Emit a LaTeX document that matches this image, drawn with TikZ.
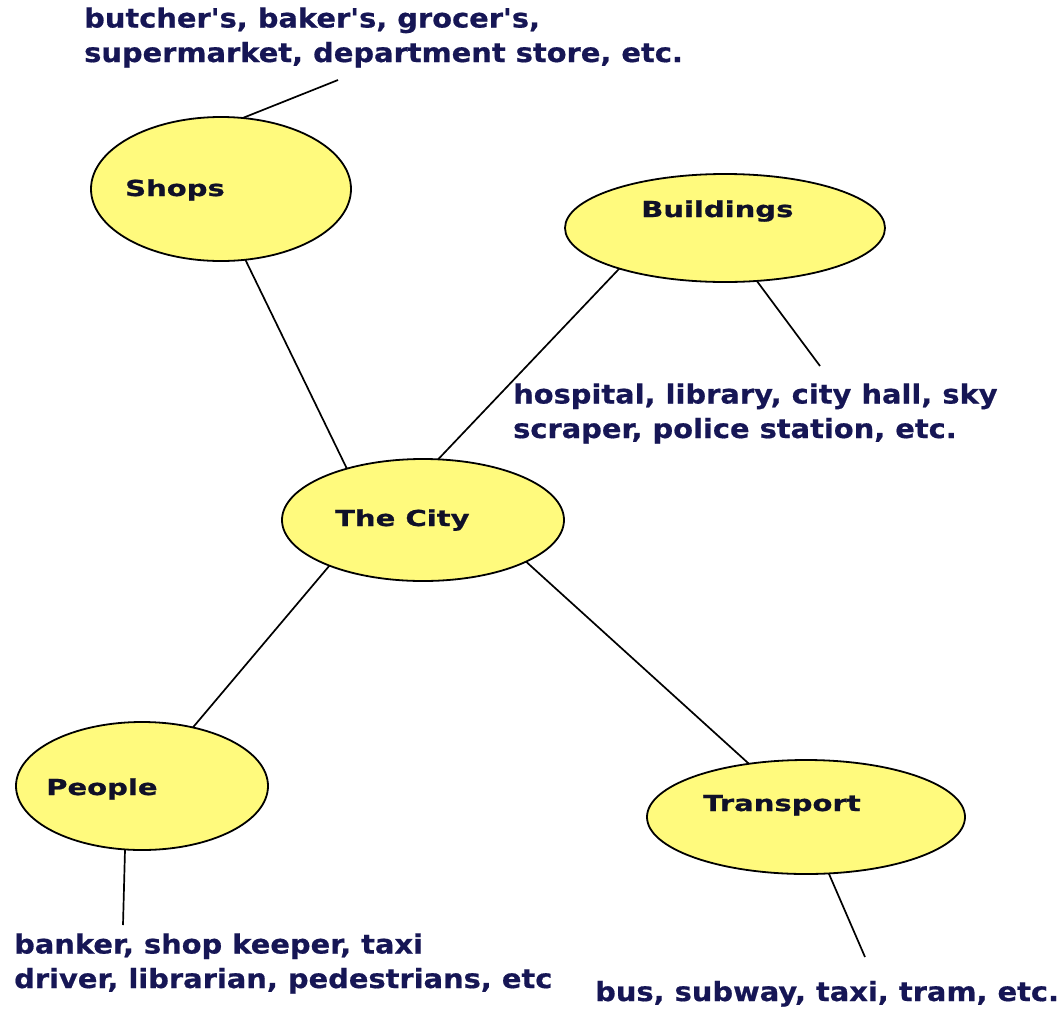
\documentclass[tikz,border=0pt]{standalone}
\usepackage{fontspec}
\setmainfont{DejaVu Sans}
\newfontfamily\descfont[FakeStretch=1.09, BoldFeatures={FakeBold=0.6}]{DejaVu Sans}
\newfontfamily\nodefont[FakeStretch=1.32, BoldFeatures={FakeBold=0.9}]{DejaVu Sans}
\usetikzlibrary{shapes.geometric}
\definecolor{bubblefill}{RGB}{255,250,125}
\definecolor{navy}{RGB}{22,22,85}
\definecolor{ink}{RGB}{16,16,40}
\begin{document}
\begin{tikzpicture}[x=1pt,y=-1pt,
  bubble/.style={ellipse, draw=black, line width=1.8pt, fill=bubblefill, inner sep=0pt, outer sep=0pt},
  lbl/.style={anchor=base west, inner sep=0pt, text=ink, font=\nodefont\bfseries\fontsize{22}{26}\selectfont},
  desc/.style={anchor=base west, inner sep=0pt, align=left, text=navy, font=\descfont\bfseries\fontsize{26.5}{34.5}\selectfont},
  link/.style={draw=black, line width=1.7pt}]
\useasboundingbox[fill=white] (0,0) rectangle (1058,1010);

% bubbles
\node[bubble, minimum width=260pt, minimum height=144pt] (shops) at (221,189) {};
\node[bubble, minimum width=320pt, minimum height=108pt] (buildings) at (725,228) {};
\node[bubble, minimum width=282pt, minimum height=122pt] (city) at (423,520) {};
\node[bubble, minimum width=252pt, minimum height=128pt] (people) at (142,786) {};
\node[bubble, minimum width=318pt, minimum height=114pt] (transport) at (806,817) {};

% bubble labels
\node[lbl] (shopsL) at (125,196) {Shops};
\node[lbl] (buildingsL) at (641,217) {Buildings};
\node[lbl] (cityL) at (335,526) {The City};
\node[lbl] (peopleL) at (46,795) {People};
\node[lbl] (transportL) at (703,811) {Transport};

% descriptions (base anchor = baseline of last line)
\node[desc] (shopsD) at (84,62) {butcher's, baker's, grocer's,\\supermarket, department store, etc.};
\node[desc] (buildingsD) at (513,438) {hospital, library, city hall, sky\\scraper, police station, etc.};
\node[desc] (peopleD) at (14,988) {banker, shop keeper, taxi\\driver, librarian, pedestrians, etc};
\node[desc] (transportD) at (595,1001) {bus, subway, taxi, tram, etc.};

% free ends
\coordinate (shopsEnd) at (338,80);
\coordinate (buildingsEnd) at (820,366);
\coordinate (peopleEnd) at (123,925);
\coordinate (transportEnd) at (865,957);

% connectors
\draw[link] (shops.-71) -- (city.146);
\draw[link] (buildings.-159) -- (city.76);
\draw[link] (city.-154) -- (people.49);
\draw[link] (city.-22) -- (transport.137);
\draw[link] (shops.73) -- (shopsEnd);
\draw[link] (buildings.-59) -- (buildingsEnd);
\draw[link] (people.-105) -- (peopleEnd);
\draw[link] (transport.-68) -- (transportEnd);
\end{tikzpicture}
\end{document}
